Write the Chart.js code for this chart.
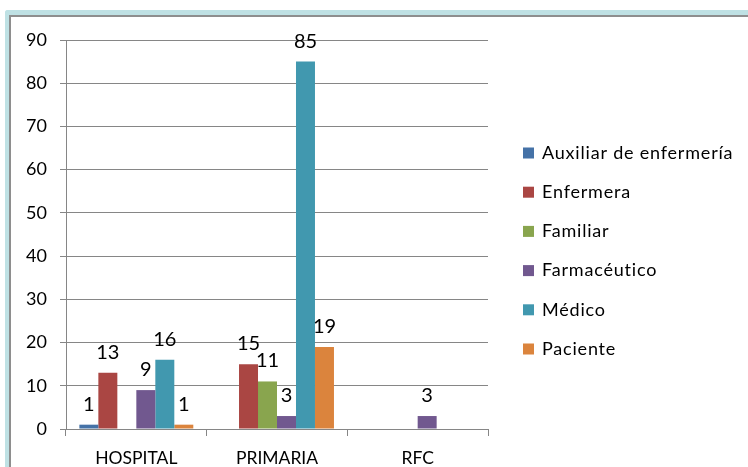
<!DOCTYPE html>
<html>
<head>
<meta charset="utf-8">
<script src="https://cdn.jsdelivr.net/npm/chart.js@4.4.1/dist/chart.umd.min.js"></script>
<style>
  html, body { margin: 0; padding: 0; background: #fff; }
  #wrap { position: relative; width: 748px; height: 467px; overflow: hidden; }
  #frame {
    position: absolute; left: 5px; top: 10px; width: 800px; height: 500px;
    border-top: 5px solid #bfe1e4; border-left: 4px solid #bfe1e4;
    border-top-left-radius: 3px;
  }
  #inner {
    position: absolute; left: 0; top: 0; width: 100%; height: 100%;
    border-top: 2px solid #8e8e8e; border-left: 2px solid #8e8e8e;
  }
  canvas { position: absolute; left: 0; top: 0; }
</style>
</head>
<body>
<div id="wrap">
  <div id="frame"><div id="inner"></div></div>
  <canvas id="chart-bars" width="748" height="467"></canvas>
</div>
<script>
var categories = ["HOSPITAL", "PRIMARIA", "RFC"];
var yTicks = [0, 10, 20, 30, 40, 50, 60, 70, 80, 90];

var auxiliar = [1, null, null];
var enfermera = [13, 15, null];
var familiar = [null, 11, null];
var farmaceutico = [9, 3, 3];
var medico = [16, 85, null];
var paciente = [1, 19, null];

var FONT = "Lato";

// etiquetas de valor encima de cada barra
var valueLabels = {
  id: "valueLabels",
  afterDatasetsDraw: function (chart) {
    var ctx = chart.ctx;
    ctx.save();
    ctx.font = "20px " + FONT;
    ctx.fillStyle = "#000";
    ctx.textAlign = "center";
    ctx.textBaseline = "alphabetic";
    chart.data.datasets.forEach(function (ds, i) {
      var meta = chart.getDatasetMeta(i);
      meta.data.forEach(function (bar, j) {
        var v = ds.data[j];
        if (v === null || v === undefined) return;
        ctx.fillText(String(v), bar.x, bar.y - 14);
      });
    });
    ctx.restore();
  },
};

// leyenda a la derecha, estilo Excel
var sideLegend = {
  id: "sideLegend",
  afterDraw: function (chart) {
    var ctx = chart.ctx;
    ctx.save();
    ctx.font = "18px " + FONT;
    ctx.letterSpacing = "0.8px";
    ctx.textBaseline = "middle";
    ctx.textAlign = "left";
    chart.data.datasets.forEach(function (ds, i) {
      var y = 153 + i * 39.2;
      ctx.fillStyle = ds.backgroundColor;
      ctx.fillRect(523, y - 5.5, 11, 11);
      ctx.fillStyle = "#000";
      ctx.fillText(ds.label, 542, y);
    });
    ctx.restore();
  },
};

var ctx = document.getElementById("chart-bars").getContext("2d");

new Chart(ctx, {
  type: "bar",
  data: {
    labels: categories,
    datasets: [
      { label: "Auxiliar de enfermería", data: auxiliar, backgroundColor: "#4572a7" },
      { label: "Enfermera", data: enfermera, backgroundColor: "#aa4643" },
      { label: "Familiar", data: familiar, backgroundColor: "#89a54e" },
      { label: "Farmacéutico", data: farmaceutico, backgroundColor: "#71588f" },
      { label: "Médico", data: medico, backgroundColor: "#4198af" },
      { label: "Paciente", data: paciente, backgroundColor: "#db843d" },
    ],
  },
  options: {
    responsive: false,
    animation: false,
    devicePixelRatio: 1,
    datasets: {
      bar: {
        categoryPercentage: 0.81,
        barPercentage: 1,
        borderWidth: 0,
      },
    },
    layout: {
      padding: { left: 10, top: 40, right: 260, bottom: 0 },
    },
    plugins: {
      legend: { display: false },
      tooltip: { enabled: false },
    },
    scales: {
      y: {
        min: 0,
        max: 90,
        afterBuildTicks: function (scale) {
          scale.ticks = yTicks.map(function (v) { return { value: v }; });
        },
        afterFit: function (scale) {
          scale.width = 56;
        },
        border: { display: true, color: "#868686", width: 1 },
        grid: {
          display: true,
          drawOnChartArea: true,
          drawTicks: true,
          tickLength: 6,
          color: "#868686",
          lineWidth: 1,
        },
        ticks: {
          padding: 13,
          color: "#000",
          font: { size: 18, family: FONT },
        },
      },
      x: {
        afterFit: function (scale) {
          scale.height = 38;
        },
        border: { display: true, color: "#868686", width: 1 },
        grid: {
          display: true,
          drawOnChartArea: false,
          drawTicks: true,
          tickLength: 7,
          color: "#868686",
          offset: true,
        },
        ticks: {
          padding: 12,
          color: "#000",
          font: { size: 17.5, family: FONT },
        },
      },
    },
  },
  plugins: [valueLabels, sideLegend],
});
</script>
</body>
</html>
